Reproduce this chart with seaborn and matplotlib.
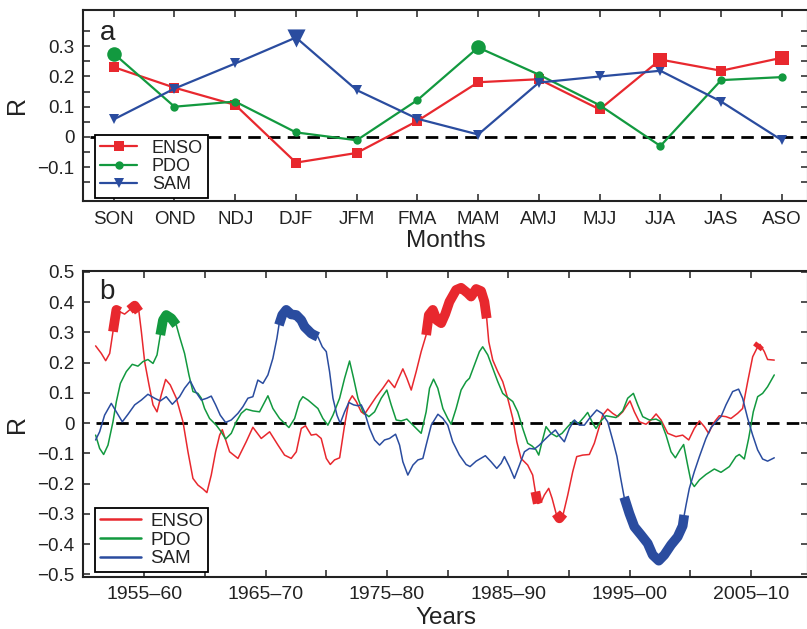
import numpy as np
import pandas as pd
import matplotlib
matplotlib.use("Agg")
import matplotlib.pyplot as plt
from matplotlib.ticker import FixedLocator, FuncFormatter
import seaborn as sns

# ---------------- data: panel a ----------------
months = ['SON', 'OND', 'NDJ', 'DJF', 'JFM', 'FMA', 'MAM', 'AMJ', 'MJJ', 'JJA', 'JAS', 'ASO']
enso_a = [0.231, 0.163, 0.106, -0.085, -0.053, 0.053, 0.181, 0.191, 0.091, 0.256, 0.219, 0.262]
pdo_a = [0.276, 0.100, 0.117, 0.015, -0.011, 0.122, 0.296, 0.206, 0.105, -0.030, 0.188, 0.198]
sam_a = [0.058, 0.160, 0.243, 0.329, 0.155, 0.060, 0.008, 0.180, 0.200, 0.219, 0.117, -0.011]
sig_enso_a = ['JJA', 'ASO']
sig_pdo_a = ['SON', 'MAM']
sig_sam_a = ['DJF']

# ---------------- data: panel b ----------------
enso_year = [1953.49, 1953.96, 1954.32, 1954.65, 1954.92, 1955.20, 1955.47, 1955.88, 1956.29, 1956.71,
             1957.06, 1957.26, 1957.53, 1957.89, 1958.22, 1958.55, 1958.90, 1959.26, 1959.64, 1960.14,
             1960.69, 1961.10, 1961.51, 1961.92, 1962.34, 1962.66, 1963.02, 1963.38, 1963.71, 1963.93,
             1964.53, 1965.22, 1965.90, 1966.45, 1967.14, 1967.83, 1968.52, 1969.06, 1969.61, 1970.03,
             1970.44, 1970.79, 1971.26, 1971.67, 1972.08, 1972.50, 1972.83, 1973.18, 1973.60, 1974.01,
             1974.36, 1974.64, 1974.97, 1975.38, 1975.65, 1976.07, 1976.62, 1977.16, 1977.63, 1978.13,
             1978.40, 1978.81, 1979.14, 1979.50, 1979.91, 1980.32, 1980.73, 1980.95, 1981.28, 1981.61,
             1981.97, 1982.30, 1982.65, 1983.20, 1983.61, 1984.16, 1984.43, 1984.85, 1985.26, 1985.53,
             1985.72, 1985.89, 1986.22, 1986.63, 1987.04, 1987.45, 1987.87, 1988.20, 1988.55, 1989.10,
             1989.51, 1989.73, 1989.93, 1990.20, 1990.47, 1990.83, 1991.11, 1991.44, 1991.71, 1992.04,
             1992.40, 1992.81, 1993.14, 1993.63, 1994.18, 1994.59, 1994.95, 1995.28, 1995.69, 1996.10,
             1996.52, 1996.93, 1997.20, 1997.53, 1997.89, 1998.30, 1998.85, 1999.26, 1999.68, 2000.09,
             2000.64, 2001.32, 2001.87, 2002.37, 2002.83, 2003.25, 2003.66, 2004.01, 2004.40, 2004.89,
             2005.44, 2005.85, 2006.40, 2006.81, 2007.23, 2007.64, 2007.99, 2008.24, 2008.60, 2008.87,
             2009.42]
enso_r = [0.255, 0.230, 0.206, 0.230, 0.302, 0.374, 0.368, 0.360, 0.374, 0.388,
          0.368, 0.302, 0.203, 0.126, 0.060, 0.037, 0.093, 0.144, 0.126, 0.082,
          0.004, -0.095, -0.183, -0.205, -0.218, -0.230, -0.172, -0.095, -0.040, -0.022,
          -0.095, -0.117, -0.062, -0.014, -0.051, -0.029, -0.073, -0.106, -0.117, -0.095,
          -0.018, -0.009, -0.040, -0.037, -0.051, -0.117, -0.137, -0.122, -0.115, -0.007,
          0.071, 0.090, 0.071, 0.037, 0.029, 0.054, 0.087, 0.115, 0.142, 0.117,
          0.142, 0.179, 0.148, 0.109, 0.170, 0.236, 0.291, 0.357, 0.374, 0.340,
          0.330, 0.360, 0.401, 0.440, 0.447, 0.429, 0.418, 0.443, 0.436, 0.401,
          0.346, 0.269, 0.208, 0.170, 0.137, 0.082, 0.015, -0.062, -0.117, -0.139,
          -0.172, -0.227, -0.266, -0.262, -0.238, -0.216, -0.249, -0.299, -0.315, -0.299,
          -0.238, -0.161, -0.111, -0.106, -0.104, -0.067, -0.018, 0.026, 0.046, 0.032,
          0.021, 0.037, 0.054, 0.073, 0.037, 0.004, -0.004, 0.010, 0.030, 0.010,
          -0.034, -0.045, -0.040, -0.056, -0.018, 0.007, -0.012, -0.034, -0.001, 0.024,
          0.021, 0.015, 0.032, 0.048, 0.137, 0.219, 0.247, 0.260, 0.236, 0.210,
          0.208]

pdo_year = [1953.49, 1953.82, 1954.15, 1954.51, 1954.92, 1955.20, 1955.53, 1956.02, 1956.51, 1956.98,
            1957.39, 1957.80, 1958.22, 1958.55, 1958.82, 1959.04, 1959.31, 1959.73, 1960.14, 1960.41,
            1960.82, 1961.18, 1961.51, 1961.92, 1962.20, 1962.47, 1962.88, 1963.43, 1963.84, 1964.20,
            1964.67, 1965.08, 1965.49, 1965.90, 1966.45, 1967.00, 1967.69, 1968.10, 1968.65, 1969.42,
            1969.89, 1970.30, 1970.57, 1970.99, 1971.40, 1971.81, 1972.22, 1972.63, 1973.05, 1973.60,
            1974.01, 1974.42, 1974.75, 1975.11, 1975.52, 1976.01, 1976.48, 1977.03, 1977.49, 1977.85,
            1978.26, 1978.67, 1979.14, 1979.64, 1980.32, 1980.73, 1981.01, 1981.34, 1981.69, 1982.11,
            1982.51, 1982.79, 1983.20, 1983.61, 1984.02, 1984.30, 1984.71, 1985.12, 1985.39, 1985.81,
            1986.22, 1986.63, 1987.04, 1987.45, 1987.87, 1988.28, 1988.69, 1989.10, 1989.46, 1989.79,
            1990.01, 1990.28, 1990.61, 1991.02, 1991.49, 1991.93, 1992.40, 1992.86, 1993.30, 1993.77,
            1994.04, 1994.46, 1994.73, 1995.14, 1995.55, 1995.97, 1996.38, 1996.93, 1997.34, 1997.81,
            1998.17, 1998.58, 1999.13, 1999.68, 2000.09, 2000.50, 2000.91, 2001.27, 2001.65, 2001.95,
            2002.28, 2002.56, 2002.83, 2003.25, 2003.79, 2004.48, 2005.03, 2005.72, 2006.26, 2006.54,
            2006.95, 2007.31, 2007.69, 2008.05, 2008.46, 2008.87, 2009.42]
pdo_r = [-0.040, -0.084, -0.104, -0.073, 0.004, 0.071, 0.131, 0.170, 0.194, 0.188,
         0.203, 0.210, 0.197, 0.225, 0.291, 0.340, 0.357, 0.346, 0.324, 0.285,
         0.230, 0.159, 0.104, 0.098, 0.082, 0.048, 0.015, -0.007, -0.029, -0.053,
         -0.034, 0.004, 0.032, 0.046, 0.040, 0.037, 0.090, 0.048, 0.015, -0.015,
         0.015, 0.071, 0.087, 0.076, 0.062, 0.048, 0.015, -0.007, 0.026, 0.082,
         0.148, 0.205, 0.148, 0.082, 0.037, 0.021, 0.037, 0.082, 0.109, 0.060,
         0.010, 0.007, 0.013, -0.007, -0.034, 0.037, 0.115, 0.145, 0.115, 0.048,
         0.015, -0.004, 0.048, 0.109, 0.137, 0.148, 0.192, 0.236, 0.252, 0.225,
         0.181, 0.137, 0.098, 0.084, 0.071, 0.037, -0.018, -0.067, -0.076, -0.089,
         -0.106, -0.062, -0.012, -0.034, -0.045, -0.034, -0.012, 0.007, -0.001, 0.021,
         0.035, -0.001, -0.018, 0.007, 0.024, 0.021, 0.018, 0.040, 0.082, 0.098,
         0.060, 0.021, 0.010, 0.013, 0.004, -0.040, -0.095, -0.115, -0.089, -0.071,
         -0.139, -0.194, -0.210, -0.188, -0.170, -0.152, -0.163, -0.144, -0.111, -0.104,
         -0.119, -0.051, 0.037, 0.087, 0.098, 0.120, 0.159]

sam_year = [1953.49, 1953.82, 1954.23, 1954.78, 1955.20, 1955.69, 1956.16, 1956.71, 1957.26, 1957.80,
            1958.35, 1958.82, 1959.31, 1959.81, 1960.41, 1960.82, 1961.29, 1961.73, 1962.20, 1962.66,
            1963.02, 1963.38, 1963.76, 1964.20, 1964.67, 1965.22, 1965.63, 1966.04, 1966.45, 1966.86,
            1967.28, 1967.69, 1968.10, 1968.43, 1968.60, 1968.87, 1969.20, 1969.61, 1970.03, 1970.44,
            1970.71, 1970.99, 1971.26, 1971.54, 1971.81, 1972.17, 1972.50, 1972.77, 1973.05, 1973.38,
            1973.65, 1974.01, 1974.36, 1974.75, 1975.11, 1975.38, 1975.65, 1976.07, 1976.48, 1976.89,
            1977.30, 1977.71, 1978.21, 1978.54, 1978.81, 1979.22, 1979.64, 1980.05, 1980.46, 1980.73,
            1981.15, 1981.70, 1982.11, 1982.51, 1982.92, 1983.47, 1984.02, 1984.35, 1984.85, 1985.61,
            1986.08, 1986.55, 1986.91, 1987.18, 1987.59, 1988.00, 1988.42, 1988.83, 1989.24, 1989.65,
            1990.06, 1990.47, 1990.89, 1991.38, 1991.76, 1992.12, 1992.53, 1992.95, 1993.36, 1993.77,
            1994.18, 1994.79, 1995.22, 1995.69, 1996.13, 1996.45, 1996.75, 1997.05, 1997.48, 1997.89,
            1998.44, 1998.99, 1999.40, 1999.90, 2000.36, 2000.91, 2001.46, 2001.87, 2002.00, 2002.15,
            2002.42, 2002.83, 2003.25, 2003.79, 2004.21, 2004.62, 2005.03, 2005.44, 2005.99, 2006.48,
            2006.81, 2007.23, 2007.64, 2008.05, 2008.46, 2008.87, 2009.42]
sam_r = [-0.056, -0.029, 0.026, 0.065, 0.037, 0.004, 0.029, 0.060, 0.076, 0.095,
         0.082, 0.073, 0.087, 0.062, 0.087, 0.115, 0.139, 0.104, 0.076, 0.082,
         0.089, 0.060, 0.026, 0.002, 0.010, 0.032, 0.054, 0.082, 0.087, 0.142,
         0.131, 0.159, 0.214, 0.280, 0.324, 0.357, 0.374, 0.359, 0.357, 0.340,
         0.318, 0.307, 0.296, 0.290, 0.285, 0.252, 0.236, 0.170, 0.082, 0.026,
         -0.001, 0.037, 0.068, 0.060, 0.057, 0.060, 0.037, -0.018, -0.056, -0.073,
         -0.056, -0.051, -0.037, -0.073, -0.128, -0.172, -0.139, -0.122, -0.117, -0.073,
         -0.007, 0.029, 0.015, -0.007, -0.062, -0.106, -0.137, -0.144, -0.126, -0.108,
         -0.128, -0.150, -0.133, -0.111, -0.144, -0.183, -0.139, -0.095, -0.084, -0.086,
         -0.073, -0.056, -0.040, -0.023, -0.045, -0.062, -0.018, 0.010, -0.007, -0.007,
         0.015, 0.043, 0.032, 0.004, -0.060, -0.110, -0.180, -0.245, -0.299, -0.343,
         -0.370, -0.398, -0.436, -0.455, -0.436, -0.403, -0.376, -0.340, -0.304, -0.271,
         -0.216, -0.161, -0.111, -0.051, -0.015, 0.004, 0.021, 0.060, 0.104, 0.112,
         0.082, 0.015, -0.040, -0.089, -0.119, -0.126, -0.115]

# significant periods (drawn thick)
sig_enso_b = [(1954.9, 1955.5), (1956.25, 1957.1), (1980.4, 1985.75), (1989.7, 1990.0),
              (1991.4, 1992.05), (2007.95, 2008.3)]
sig_pdo_b = [(1958.8, 1960.2)]
sig_sam_b = [(1968.55, 1971.85), (1997.0, 2002.05)]

period_labels = ['1955\u201360', '1965\u201370', '1975\u201380', '1985\u201390', '1995\u201300', '2005\u201310']

# ---------------- style ----------------
RED, GREEN, BLUE = '#E8282E', '#12993F', '#2A4C9F'
sns.set_theme(style='ticks')
plt.rcParams['font.family'] = ['Liberation Sans', 'DejaVu Sans']
plt.rcParams['axes.linewidth'] = 1.5
plt.rcParams['axes.edgecolor'] = '#222222'
plt.rcParams['xtick.color'] = '#222222'
plt.rcParams['ytick.color'] = '#222222'
TXT = '#222222'

W, H = 807, 629
fig = plt.figure(figsize=(W / 100, H / 100), dpi=100)
ax1 = fig.add_axes([83 / W, 1 - 201 / H, 725 / W, 191 / H])
ax2 = fig.add_axes([83 / W, 1 - 576.7 / H, 725 / W, 306 / H])


def minus_fmt(v, pos):
    if abs(v) < 1e-9:
        return '0'
    return ('%.1f' % v).replace('-', '\u2212')


# ---------------- panel a ----------------
ax1.hlines(0, -0.39, 11.43, color='black', lw=2.0, linestyles=(0, (4.5, 2.6)), zorder=1.5)
specs_a = [('ENSO', enso_a, sig_enso_a, RED, 's', 6.5, 100),
           ('PDO', pdo_a, sig_pdo_a, GREEN, 'o', 6.0, 110),
           ('SAM', sam_a, sig_sam_a, BLUE, 'v', 7.5, 170)]
for name, vals, sig, col, mk, ms, big in specs_a:
    sns.lineplot(x=months, y=vals, color=col, marker=mk, markersize=ms, markeredgewidth=0,
                 lw=1.6, sort=False, estimator=None, label=name, ax=ax1, zorder=3)
    sdf = pd.DataFrame({'m': months, 'R': vals})
    sdf = sdf[sdf['m'].isin(sig)]
    sns.scatterplot(data=sdf, x='m', y='R', color=col, marker=mk, s=big, linewidth=0,
                    legend=False, ax=ax1, zorder=4)

ax1.set_xlim(-0.506, 11.43)
ax1.set_ylim(-0.212, 0.42)
ax1.yaxis.set_major_locator(FixedLocator(np.round(np.arange(-0.15, 0.351, 0.05), 2)))
ax1.yaxis.set_major_formatter(FuncFormatter(
    lambda v, p: minus_fmt(v, p) if abs(round(v * 10) - v * 10) < 1e-6 else ''))
ax1.tick_params(axis='both', direction='in', top=True, right=True, length=5, width=1.1,
                labelsize=13.5, colors=TXT, pad=6)
ax1.tick_params(axis='x', pad=7)
ax1.set_xlabel('Months', fontsize=17.5, color=TXT)
ax1.set_ylabel('R', fontsize=18, color=TXT)
ax1.xaxis.set_label_coords(0.5, -0.15)
ax1.xaxis.label.set_va('top')
ax1.yaxis.set_label_coords(-0.074, 0.5)
ax1.text(0.023, 0.845, 'a', transform=ax1.transAxes, fontsize=20, color=TXT, va='baseline')
leg1 = ax1.legend(loc='lower left', bbox_to_anchor=(0.0166, 0.0157), borderaxespad=0,
                  frameon=True, fancybox=False, edgecolor='black', framealpha=1, fontsize=13,
                  handlelength=2.1, handletextpad=0.8, labelspacing=0.08, borderpad=0.25)
leg1.get_frame().set_linewidth(1.3)
for t in leg1.get_texts():
    t.set_color(TXT)

# ---------------- panel b ----------------
ax2.hlines(0, enso_year[0], 2012.2, color='black', lw=2.0, linestyles=(0, (4.5, 2.6)), zorder=2.5)
specs_b = [('ENSO', enso_year, enso_r, sig_enso_b, RED),
           ('PDO', pdo_year, pdo_r, sig_pdo_b, GREEN),
           ('SAM', sam_year, sam_r, sig_sam_b, BLUE)]
for name, yrs, vals, sig, col in specs_b:
    sdf = pd.DataFrame({'year': yrs, 'R': vals})
    sns.lineplot(data=sdf, x='year', y='R', color=col, lw=1.1, estimator=None,
                 label=name, ax=ax2, zorder=3)
    for a, b in sig:
        seg = sdf[(sdf['year'] >= a) & (sdf['year'] <= b)]
        sns.lineplot(data=seg, x='year', y='R', color=col, lw=7, estimator=None,
                     legend=False, ax=ax2, zorder=4, solid_capstyle='butt',
                     solid_joinstyle='round')

tick_centers = [int(s[:4]) + 2.5 for s in period_labels]
all_ticks = sorted(tick_centers + [c + 5 for c in tick_centers])
ax2.set_xlim(1952.45, 2012.2)
ax2.set_ylim(-0.508, 0.5035)
ax2.xaxis.set_major_locator(FixedLocator(all_ticks))
ax2.xaxis.set_major_formatter(FuncFormatter(
    lambda v, p: period_labels[tick_centers.index(v)] if v in tick_centers else ''))
ax2.yaxis.set_major_locator(FixedLocator(np.round(np.arange(-0.5, 0.501, 0.1), 1)))
ax2.yaxis.set_major_formatter(FuncFormatter(minus_fmt))
ax2.tick_params(axis='both', direction='in', top=True, right=True, length=5, width=1.1,
                labelsize=13.5, colors=TXT, pad=6)
ax2.tick_params(axis='x', pad=7, labelsize=14)
ax2.set_xlabel('Years', fontsize=17.5, color=TXT)
ax2.set_ylabel('R', fontsize=18, color=TXT)
ax2.xaxis.set_label_coords(0.5, -0.1)
ax2.xaxis.label.set_va('top')
ax2.yaxis.set_label_coords(-0.074, 0.5)
ax2.text(0.023, 0.9075, 'b', transform=ax2.transAxes, fontsize=20, color=TXT, va='baseline')
leg2 = ax2.legend(loc='lower left', bbox_to_anchor=(0.0166, 0.0154), borderaxespad=0,
                  frameon=True, fancybox=False, edgecolor='black', framealpha=1, fontsize=13.5,
                  handlelength=2.2, handletextpad=0.5, labelspacing=0.08, borderpad=0.25)
leg2.get_frame().set_linewidth(1.3)
for line in leg2.get_lines():
    line.set_linewidth(1.8)
for t in leg2.get_texts():
    t.set_color(TXT)

fig.savefig('out.png', dpi=100)
